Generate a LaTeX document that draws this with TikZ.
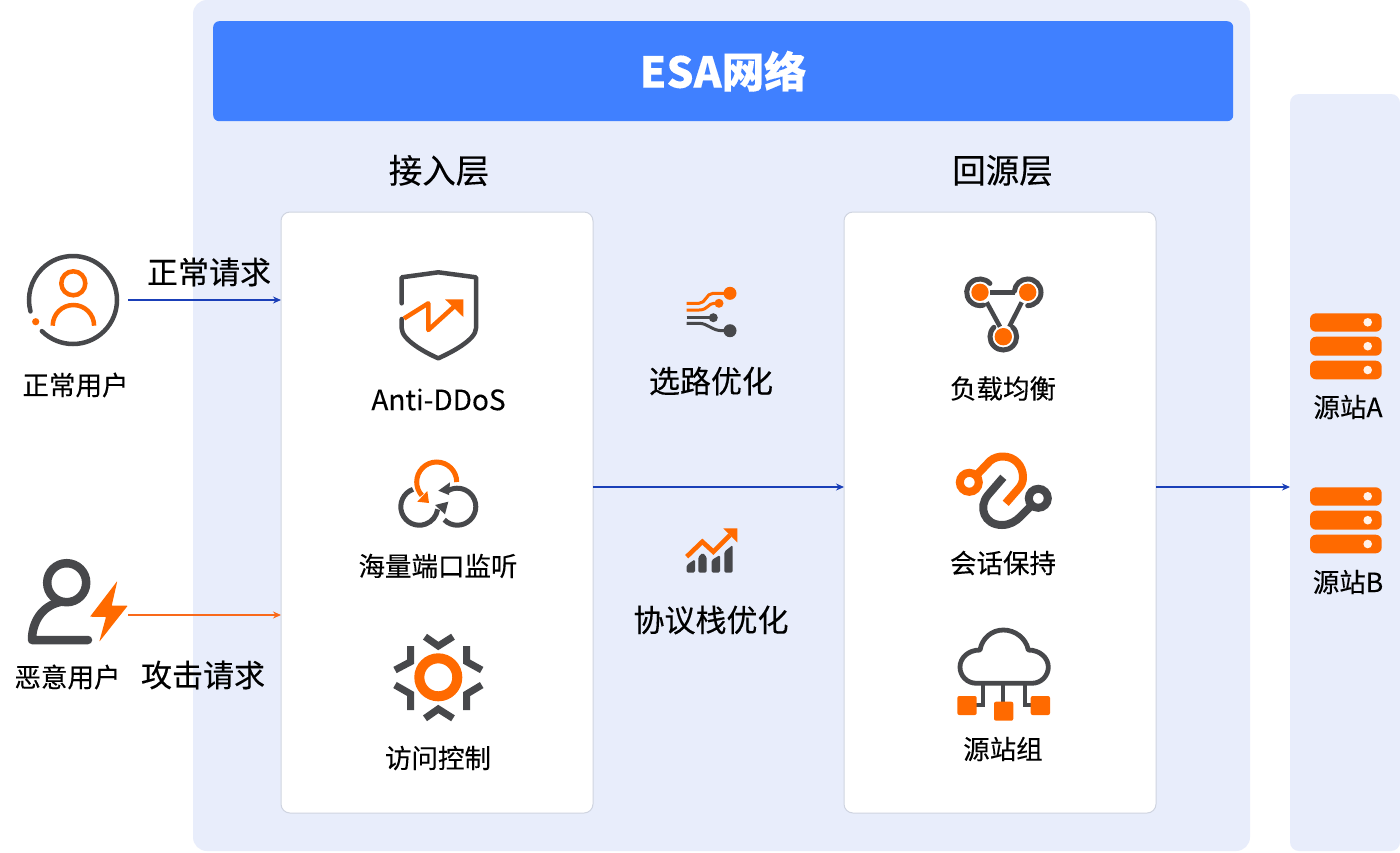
\documentclass[tikz,border=0pt]{standalone}
\usepackage{fontspec}
\setmainfont{Noto Sans CJK SC}[FakeBold=0.25]
\usetikzlibrary{arrows.meta,calc}
\definecolor{panelbg}{HTML}{E8EDFB}
\definecolor{titlebar}{HTML}{4080FF}
\definecolor{icondark}{HTML}{47484B}
\definecolor{iconorange}{HTML}{FF6A00}
\definecolor{flowblue}{HTML}{1A3FB8}
\definecolor{flowred}{HTML}{F9691A}
\definecolor{cardline}{HTML}{CFD4E0}
\tikzset{
  panel/.style={fill=panelbg,draw=none,anchor=north west,inner sep=0pt,outer sep=0pt},
  card/.style={fill=white,draw=cardline,line width=1pt,rounded corners=9pt,anchor=north west,inner sep=0pt,outer sep=0pt,minimum width=312pt,minimum height=601pt},
  lbl/.style={font=\fontsize{26.5pt}{30pt}\selectfont,text=black,inner sep=0pt},
  lblbig/.style={font=\fontsize{31pt}{36pt}\selectfont,text=black,inner sep=0pt},
  flowb/.style={draw=flowblue,line width=2pt,-{Stealth[length=8pt,width=7pt]}},
  flowo/.style={draw=flowred,line width=2pt,-{Stealth[length=8pt,width=7pt]}},
  dk/.style={draw=icondark,line width=4.5pt},
  og/.style={draw=iconorange,line width=4.5pt},
}
\begin{document}
\begin{tikzpicture}[x=1pt,y=-1pt]
\useasboundingbox (0,0) rectangle (1400,852);
\fill[white] (0,0) rectangle (1400,852);
% panels
\node[panel,rounded corners=14pt,minimum width=1057pt,minimum height=851pt] (esa) at (193,0) {};
\node[panel,rounded corners=9pt,minimum width=110pt,minimum height=757pt] (origin) at (1290,94) {};
\node[anchor=north west,fill=titlebar,rounded corners=6pt,inner sep=0pt,minimum width=1020pt,minimum height=100pt,text=white,font=\fontsize{42.5pt}{48pt}\selectfont\bfseries] (title) at (213,21) {ESA网络};
\node[card] (acc) at (281,212) {};
\node[card] (ret) at (844,212) {};
% headings
\node[font=\fontsize{33.5pt}{38pt}\selectfont,text=black,inner sep=0pt] (h1) at (439,170.5) {接入层};
\node[font=\fontsize{33.5pt}{38pt}\selectfont,text=black,inner sep=0pt] (h2) at (1002.5,170.5) {回源层};
% labels
\node[lbl,font=\fontsize{28pt}{30pt}\selectfont] (t1) at (438.5,399.5) {Anti-DDoS};
\node[lbl] (t2) at (438,566) {海量端口监听};
\node[lbl] (t3) at (438,758) {访问控制};
\node[lbl] (t4) at (1003,388.5) {负载均衡};
\node[lbl] (t5) at (1003,563) {会话保持};
\node[lbl] (t6) at (1003,749) {源站组};
\node[lblbig] (t7) at (711,381) {选路优化};
\node[lblbig] (t8) at (711,620) {协议栈优化};
\node[lblbig] (t9) at (209,272) {正常请求};
\node[lblbig] (t10) at (203,675) {攻击请求};
\node[lbl] (t11) at (75.5,385) {正常用户};
\node[lbl] (t12) at (67.5,677) {恶意用户};
\node[lbl] (t13) at (1348,407) {源站A};
\node[lbl] (t14) at (1348,582) {源站B};
% connectors
\coordinate (u1) at (128,300);
\coordinate (u2) at (128,615);
\coordinate (a1) at (281,300);
\coordinate (a2) at (281,615);
\coordinate (a3) at (593,487);
\coordinate (r1) at (844,487);
\coordinate (r2) at (1156,487);
\coordinate (o1) at (1290,487);
\draw[flowb] (u1) -- (a1);
\draw[flowo] (u2) -- (a2);
\draw[flowb] (a3) -- (r1);
\draw[flowb] (r2) -- (o1);
% normal user icon
\draw[dk,line cap=round] (73,300) ++(225:44pt) arc[start angle=225,end angle=555,radius=44pt];
\fill[iconorange] (35.7,321.7) circle[radius=3.6pt];
\draw[og] (73.3,283.3) circle[radius=12pt];
\draw[og] (52.7,325.7) arc[start angle=180,end angle=0,radius=20.7pt];
% malicious user icon
\draw[icondark,line width=8.5pt] (66.7,582.7) circle[radius=19.5pt];
\draw[icondark,line width=8.5pt,line cap=round,line join=round] (88,640) -- (32,640) .. controls (32,622) and (42,606) .. (60,602);
\fill[iconorange,rounded corners=0.6pt] (117.3,581) -- (90,616.7) -- (106,617) -- (99.3,641.7) -- (127.7,605.7) -- (111.7,605.7) -- cycle;
% shield
\draw[dk,line cap=round,line join=round] (401.7,303.3) -- (401.7,277.3) -- (438.3,272.3) -- (476,277.3) -- (476,328.3) .. controls (476,340) and (450,353) .. (438.3,358.3) .. controls (426,353) and (401.7,340) .. (401.7,328.3) -- (401.7,319);
\draw[og,line join=round] (404,318.5) -- (428.3,303.3) -- (428.3,330) -- (458,303);
\fill[iconorange] (445,299.3) -- (463.3,299.3) -- (463.3,317) -- cycle;
% cycle icon
\draw[og,line width=5pt] (456.7,482) arc[start angle=0,end angle=222,radius=20pt];
\fill[iconorange] (417.3,501.7) -- (429,503) -- (427.3,491) -- cycle;
\draw[dk,line width=5pt] (419.3,506.7) ++(110:18.5pt) arc[start angle=110,end angle=352,radius=18.5pt];
\fill[icondark] (435,505) -- (448.3,501.7) -- (445,514.3) -- cycle;
\draw[dk,line width=5pt] (457.3,506.7) ++(225:18.5pt) arc[start angle=225,end angle=480,radius=18.5pt];
\fill[icondark] (438.3,490.7) -- (450,482.3) -- (449,495) -- cycle;
% gear icon
\draw[iconorange,line width=10pt] (438.3,677.3) circle[radius=19pt];
\begin{scope}[icondark,line width=7pt]
\draw (425,636.7) -- (438.3,646) -- (453,636.7);
\draw (425,718.3) -- (438.3,709) -- (453,718.3);
\draw (410.7,646) -- (410.7,661.7) -- (395,670);
\draw (466.7,646) -- (466.7,661.7) -- (481.7,670);
\draw (395,685) -- (410.7,694) -- (410.7,710);
\draw (481.7,685) -- (466.7,694) -- (466.7,710);
\end{scope}
% route icon
\begin{scope}[line width=3pt]
\draw[iconorange] (686.7,303.3) -- (699,303.3) .. controls (706,303.3) and (706,293.3) .. (713,293.3) -- (730,293.3);
\draw[iconorange] (686.7,310) -- (699,310) .. controls (708,310) and (708,303.3) .. (714,303.3) -- (719,303.3);
\draw[icondark] (686.7,317.7) -- (713.3,317.7);
\draw[icondark] (686.7,323.3) -- (699,323.3) .. controls (708,323.3) and (712,330.7) .. (722,330.7) -- (730,330.7);
\end{scope}
\fill[iconorange] (730,293.3) circle[radius=6.5pt];
\fill[iconorange] (719,303.3) circle[radius=4.5pt];
\fill[icondark] (713.3,317.7) circle[radius=4.5pt];
\fill[icondark] (730,330.7) circle[radius=6.5pt];
% chart icon
\fill[icondark,rounded corners=1.5pt] (686.7,572.7) -- (686.7,565) -- (695,559.3) -- (695,572.7) -- cycle;
\fill[icondark,rounded corners=1.5pt] (698.3,572.7) -- (698.3,557) -- (702.5,552.7) -- (706.7,557) -- (706.7,572.7) -- cycle;
\fill[icondark,rounded corners=1.5pt] (711.7,572.7) -- (711.7,560) -- (720,555) -- (720,572.7) -- cycle;
\fill[icondark,rounded corners=1.5pt] (724.3,572.7) -- (724.3,551.7) -- (732.7,545) -- (732.7,572.7) -- cycle;
\draw[iconorange,line width=4.6pt] (686.7,556.7) -- (702.3,541.7) -- (713.3,551.7) -- (730,535);
\fill[iconorange] (723.3,528.3) -- (737.3,528.3) -- (737.3,542.3) -- cycle;
% balance icon
\fill[iconorange] (980,292.3) circle[radius=8.7pt];
\fill[iconorange] (1027.7,292.3) circle[radius=8.7pt];
\fill[iconorange] (1003.3,336.7) circle[radius=8.7pt];
\draw[dk,line width=5pt,line cap=round] (980,292.3) ++(42:13.3pt) arc[start angle=42,end angle=285,radius=13.3pt];
\draw[dk,line width=5pt,line cap=round] (1027.7,292.3) ++(-90:13.3pt) arc[start angle=-90,end angle=175,radius=13.3pt];
\draw[dk,line width=5pt,line cap=round] (1003.3,336.7) ++(135:13.3pt) arc[start angle=135,end angle=405,radius=13.3pt];
\draw[dk] (990,292.3) -- (1015,292.3);
\draw[dk] (986.7,302.3) -- (1000,326.7);
\draw[dk] (1021.7,302.3) -- (1009.3,326.7);
% session icon
\draw[iconorange,line width=8pt] (969.3,482.3) circle[radius=9.5pt];
\draw[iconorange,line width=8pt,line join=round] (976.7,475) -- (990,461) .. controls (994,457.5) and (999,456.5) .. (1003,456.5) .. controls (1015,456.5) and (1023,466) .. (1023,477) .. controls (1023,482) and (1021.5,485) .. (1019,488) -- (1005.7,503.3);
\draw[icondark,line width=8pt] (1038.3,498.3) circle[radius=9.5pt];
\draw[icondark,line width=8pt] (1003.3,477.3) -- (988,495) .. controls (978,507) and (984,525) .. (1002,525) .. controls (1010,525) and (1016,521) .. (1020,517) -- (1032,505);
% cloud icon
\draw[dk,line width=4.8pt,line join=round] (976.7,683.3) -- (1031.7,683.3) .. controls (1042,683.3) and (1048.3,675) .. (1048.3,667) .. controls (1048.3,658) and (1040,650) .. (1028.3,650) .. controls (1026,638) and (1015,630) .. (1003.3,630) .. controls (992,630) and (982,638) .. (980,650) .. controls (968,650) and (960,658) .. (960,667) .. controls (960,676) and (967,683.3) .. (976.7,683.3) -- cycle;
\draw[dk,line width=4.2pt] (982.7,683.3) -- (982.7,705) -- (975,705);
\draw[dk,line width=4.2pt] (1003.3,683.3) -- (1003.3,703);
\draw[dk,line width=4.2pt] (1025,683.3) -- (1025,705) -- (1033,705);
\fill[iconorange,rounded corners=2pt] (957.3,696) rectangle (976.7,715);
\fill[iconorange,rounded corners=2pt] (994,701.7) rectangle (1013.3,720.7);
\fill[iconorange,rounded corners=2pt] (1030.7,696) rectangle (1050,715);
% servers
\foreach \dy in {0,174}{
  \fill[iconorange,rounded corners=6pt] (1310,313.3+\dy) rectangle (1381.7,331.7+\dy);
  \fill[iconorange,rounded corners=6pt] (1310,336.7+\dy) rectangle (1381.7,355.7+\dy);
  \fill[iconorange,rounded corners=6pt] (1310,360.7+\dy) rectangle (1381.7,379.3+\dy);
  \fill[white!92!iconorange] (1367.7,322.3+\dy) circle[radius=4.3pt];
  \fill[white!92!iconorange] (1367.7,346.2+\dy) circle[radius=4.3pt];
  \fill[white!92!iconorange] (1367.7,370+\dy) circle[radius=4.3pt];
}
\end{tikzpicture}
\end{document}
